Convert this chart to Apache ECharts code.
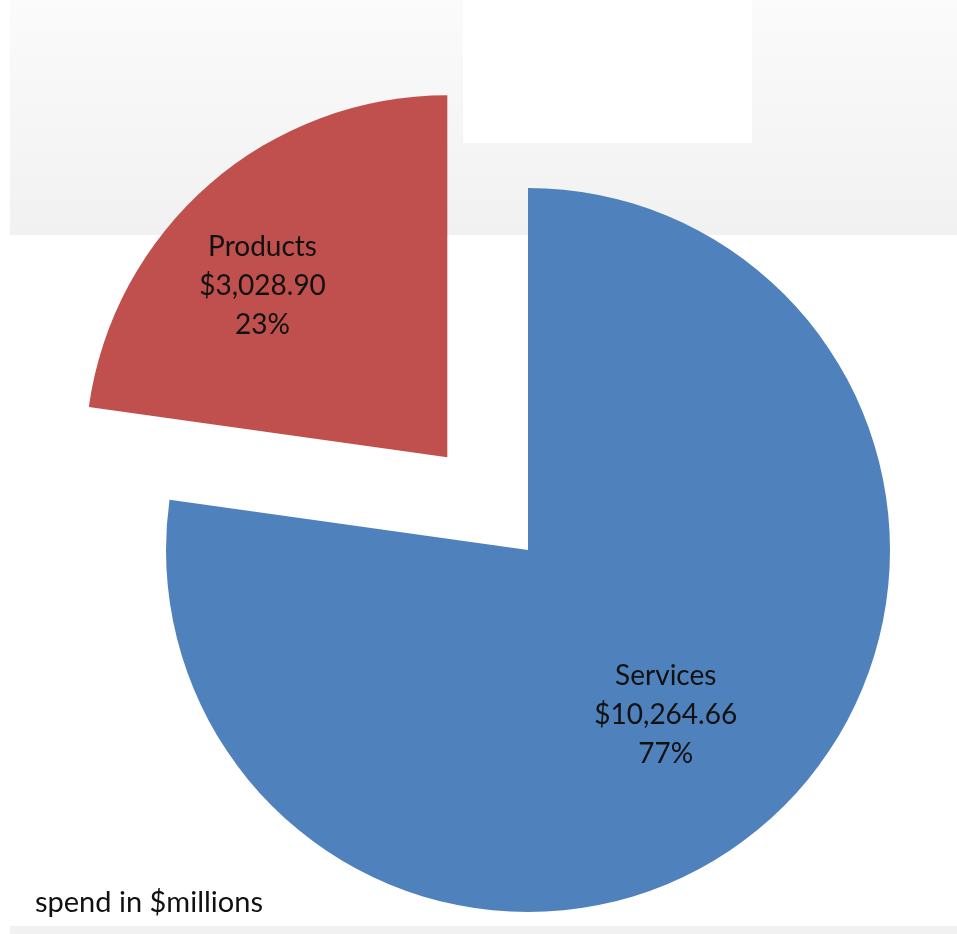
<!DOCTYPE html>
<html>
<head>
<meta charset="utf-8">
<style>html,body{margin:0;padding:0;background:#fff;}#c{width:957px;height:934px;}</style>
<script src="https://cdn.jsdelivr.net/npm/echarts@6/dist/echarts.min.js"></script>
</head>
<body>
<div id="c"></div>
<script>
const categories = ['Services', 'Products'];
const values = [10264.66, 3028.90];
const colors = ['#4F81BD', '#C0504D'];
const note = 'spend in $millions';

const chart = echarts.init(document.getElementById('c'));
const fmt = v => '$' + v.toLocaleString('en-US', {minimumFractionDigits: 2, maximumFractionDigits: 2});
const labelOffsets = [[17, 26], [-64, -32]];

chart.setOption({
  animation: false,
  backgroundColor: '#ffffff',
  title: {
    text: note, left: 30, top: 883,
    textStyle: {fontFamily: 'Lato', fontSize: 29, fontWeight: 'normal', color: '#111'}
  },
  graphic: [
    {type: 'rect', z: -10, shape: {x: 10, y: 0, width: 947, height: 235},
     style: {fill: new echarts.graphic.LinearGradient(0, 0, 0, 1, [{offset: 0, color: '#fbfbfb'}, {offset: 1, color: '#f1f1f1'}])}},
    {type: 'rect', z: -9, shape: {x: 463, y: 0, width: 289, height: 143}, style: {fill: '#ffffff'}},
    {type: 'rect', z: -10, shape: {x: 10, y: 926, width: 947, height: 8}, style: {fill: '#f1f1f1'}}
  ],
  series: [{
    type: 'pie',
    center: [528, 550],
    radius: [0, 362],
    startAngle: 90,
    clockwise: true,
    selectedMode: 'single',
    selectedOffset: 123,
    avoidLabelOverlap: false,
    silent: true,
    itemStyle: {borderWidth: 0},
    emphasis: {disabled: true, scale: false},
    label: {
      show: true, position: 'inside',
      fontFamily: 'Lato', fontSize: 28, lineHeight: 39, color: '#111', align: 'center',
      formatter: p => p.name + '\n' + fmt(p.value) + '\n' + Math.round(p.percent) + '%'
    },
    labelLine: {show: false},
    data: categories.map((c, i) => ({
      name: c, value: values[i], selected: i === 1,
      itemStyle: {color: colors[i]},
      label: {offset: labelOffsets[i]},
      select: {label: {offset: labelOffsets[i]}}
    }))
  }]
});
</script>
</body>
</html>
